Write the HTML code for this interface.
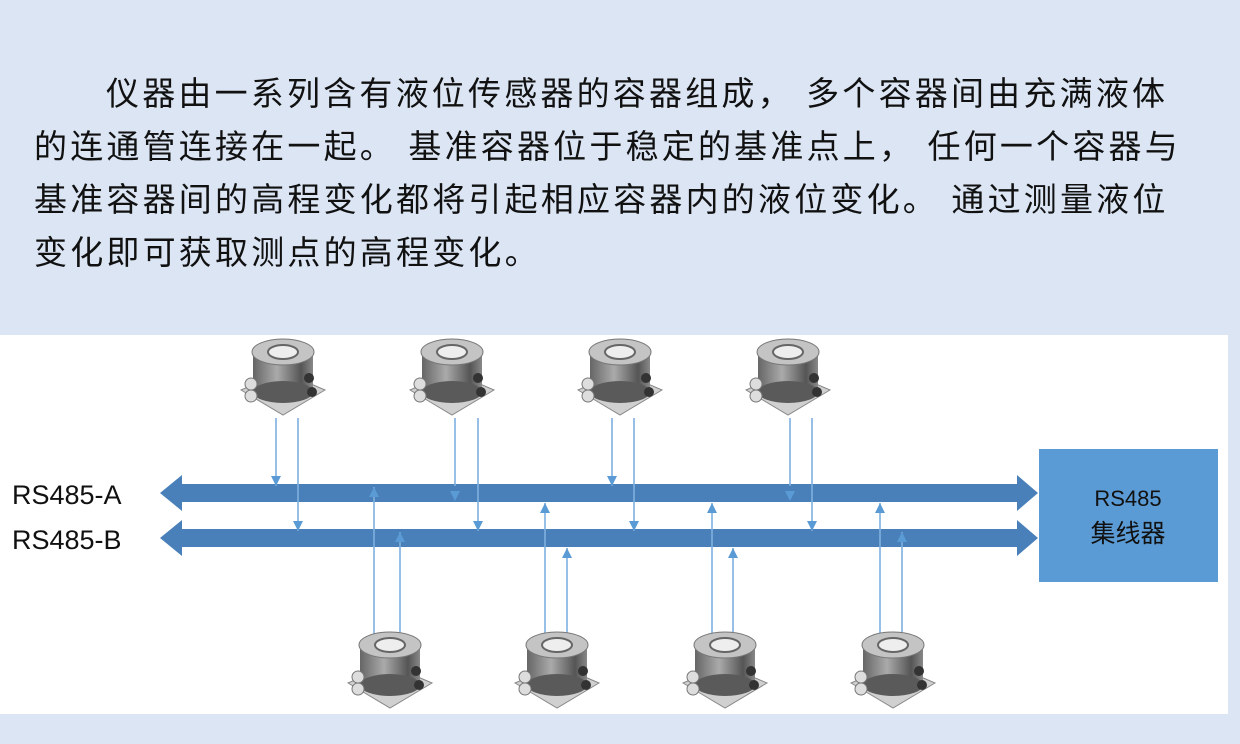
<!DOCTYPE html>
<html><head><meta charset="utf-8"><style>
body{margin:0;width:1240px;height:744px;background:#dbe5f4;position:relative;overflow:hidden;font-family:"Liberation Sans","Noto Sans CJK SC",sans-serif}
.t{position:absolute;font-size:33px;color:#111;white-space:nowrap;letter-spacing:3.2px}
</style></head><body>
<div class="t" style="left:106px;top:67px">仪器由一系列含有液位传感器的容器组成， 多个容器间由充满液体</div>
<div class="t" style="left:34px;top:120px">的连通管连接在一起。 基准容器位于稳定的基准点上， 任何一个容器与</div>
<div class="t" style="left:34px;top:173px">基准容器间的高程变化都将引起相应容器内的液位变化。 通过测量液位</div>
<div class="t" style="left:34px;top:226px">变化即可获取测点的高程变化。</div>
<svg width="1240" height="744" style="position:absolute;left:0;top:0">
<defs>
<linearGradient id="cyl" x1="0" x2="1"><stop offset="0" stop-color="#666"/><stop offset=".4" stop-color="#aaa"/><stop offset=".8" stop-color="#555"/><stop offset="1" stop-color="#888"/></linearGradient>
<g id="s">
<polygon points="-42,38 0,20 42,38 0,63" fill="#d0d0d0" stroke="#888"/>
<rect x="-30" y="0" width="60" height="40" fill="url(#cyl)"/>
<ellipse cx="0" cy="40" rx="30" ry="11" fill="#5a5a5a"/>
<ellipse cx="0" cy="0" rx="31" ry="13" fill="#c4c4c4" stroke="#777"/>
<ellipse cx="0" cy="0" rx="15" ry="7" fill="#eee" stroke="#666" stroke-width="2"/>
<circle cx="-32" cy="32" r="6" fill="#ddd" stroke="#777"/><circle cx="-32" cy="44" r="6" fill="#ddd" stroke="#777"/>
<circle cx="26" cy="26" r="5" fill="#333"/><circle cx="29" cy="40" r="5" fill="#333"/>
</g>
</defs>
<rect x="0" y="335" width="1228" height="379" fill="#fff"/>
<g fill="#4a80b9">
<polygon points="160,493 182,475 182,484 1017,484 1017,475 1038,493 1017,511 1017,502 182,502 182,511"/>
<polygon points="160,538 182,520 182,529 1017,529 1017,520 1038,538 1017,556 1017,547 182,547 182,556"/>
</g>
<rect x="1039" y="449" width="179" height="133" fill="#5b9bd5"/>
<text x="1128" y="506" font-size="22" text-anchor="middle" fill="#111" font-family="Liberation Sans,Noto Sans CJK SC,sans-serif">RS485</text>
<text x="1128" y="542" font-size="25" text-anchor="middle" fill="#111" font-family="Liberation Sans,Noto Sans CJK SC,sans-serif">集线器</text>
<text x="12" y="504" font-size="27" fill="#111" font-family="Liberation Sans,sans-serif">RS485-A</text>
<text x="12" y="549" font-size="27" fill="#111" font-family="Liberation Sans,sans-serif">RS485-B</text>
<g stroke="#7fb0e0" stroke-width="1.6" fill="none">
<path d="M276 418V486M298 418V531M455 418V486M478 418V531M612 418V486M634 418V531M790 418V486M812 418V531"/>
<path d="M374 635V487M400 635V532M545 635V503M567 635V548M712 635V503M733 635V548M880 635V503M902 635V532"/>
</g>
<g fill="#5b9bd5">
<path d="M271,476h10l-5,10zM293,521h10l-5,10zM450,491h10l-5,10zM473,521h10l-5,10zM607,476h10l-5,10zM629,521h10l-5,10zM785,491h10l-5,10zM807,521h10l-5,10z"/>
<path d="M369,497h10l-5,-10zM395,542h10l-5,-10zM540,513h10l-5,-10zM562,558h10l-5,-10zM707,513h10l-5,-10zM728,558h10l-5,-10zM875,513h10l-5,-10zM897,542h10l-5,-10z"/>
</g>
<use href="#s" x="283" y="352"/><use href="#s" x="452" y="352"/><use href="#s" x="620" y="352"/><use href="#s" x="788" y="352"/>
<use href="#s" x="390" y="645"/><use href="#s" x="557" y="645"/><use href="#s" x="725" y="645"/><use href="#s" x="893" y="645"/>
</svg>
</body></html>
